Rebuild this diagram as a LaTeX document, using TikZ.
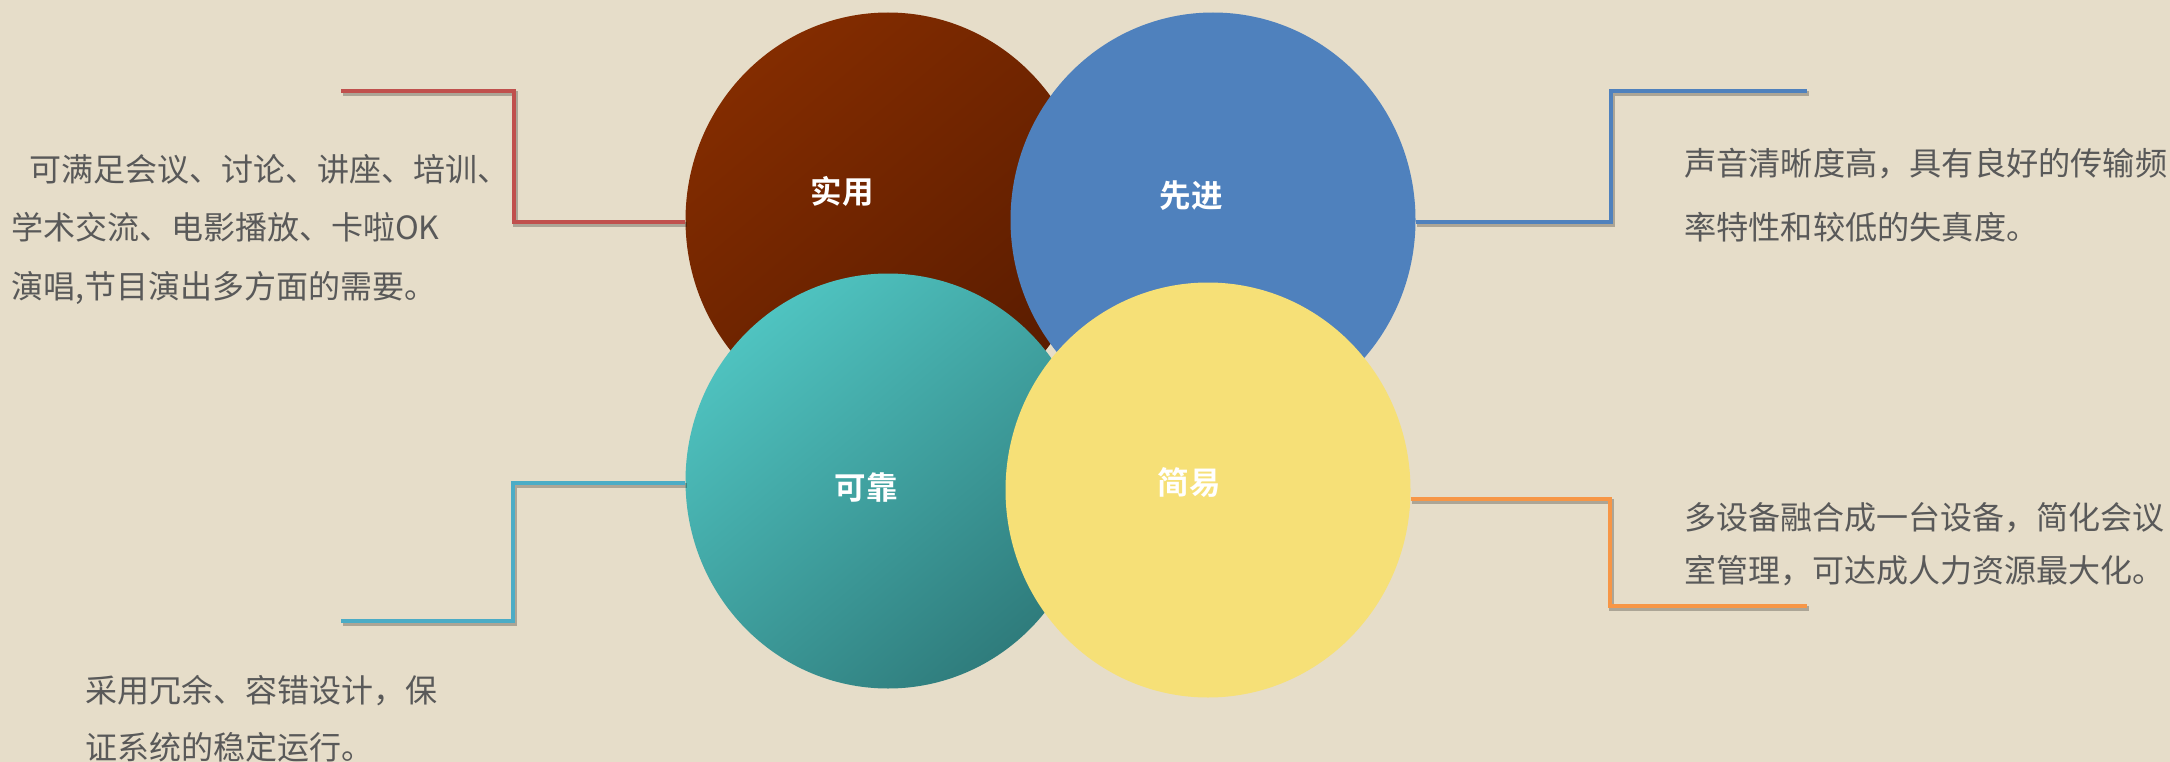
\documentclass[tikz,border=0pt]{standalone}
\usepackage{fontspec}
\usetikzlibrary{shapes.geometric}
\newfontfamily\cjk{Noto Sans CJK SC}
\newfontfamily\cjklabel{Noto Sans CJK SC Bold}
\definecolor{bgc}{HTML}{E6DDC9}
\definecolor{txt}{HTML}{595959}
\definecolor{brownA}{HTML}{832C00}
\definecolor{brownB}{HTML}{5A1C00}
\definecolor{blueE}{HTML}{4F81BD}
\definecolor{tealA}{HTML}{4FC3C0}
\definecolor{tealB}{HTML}{2F7C7C}
\definecolor{yellowE}{HTML}{F6E077}
\definecolor{redL}{HTML}{C0504D}
\definecolor{blueL}{HTML}{4F81BD}
\definecolor{tealL}{HTML}{4BACC6}
\definecolor{orangeL}{HTML}{F79646}
\begin{document}
\begin{tikzpicture}[x=1pt,y=-1pt,
  oval/.style={ellipse, draw=none, inner sep=0pt, minimum width=405pt, minimum height=415pt},
  lbl/.style={text=white, font=\cjklabel\fontsize{31.5}{36}\selectfont, inner sep=0pt},
  desc/.style={text=txt, align=left, inner sep=0pt, anchor=west},
  conn/.style={line width=4.5pt, preaction={draw=black, opacity=0.25, line width=4.5pt, transform canvas={xshift=1.5pt,yshift=-2.5pt}}}
]
\fill[bgc] (0,0) rectangle (2170,762);
\useasboundingbox (0,0) rectangle (2170,762);

% connector corners and ends
\coordinate (r1) at (514,91);  \coordinate (r2) at (341,91);
\coordinate (b1) at (1611,91); \coordinate (b2) at (1807,91);
\coordinate (t1) at (513,621); \coordinate (t2) at (341,621);
\coordinate (o1) at (1610,606);\coordinate (o2) at (1807,606);

% ellipses (as nodes)
\node[oval, shading=axis, top color=brownA, bottom color=brownB, shading angle=40] (shiyong) at (888,220) {};
\node[oval, fill=blueE] (xianjin) at (1213,220) {};
\node[oval, shading=axis, top color=tealA, bottom color=tealB, shading angle=40] (kekao) at (888,481) {};
\node[oval, fill=yellowE] (jianyi) at (1208,490) {};

% connectors
\draw[conn, redL] ([yshift=-2pt]shiyong.west) -| (r1) -- (r2);
\draw[conn, blueL] ([yshift=-2pt]xianjin.east) -| (b1) -- (b2);
\draw[conn, tealL] ([yshift=-2pt]kekao.west) -| (t1) -- (t2);
\draw[conn, orangeL] ([yshift=-9pt]jianyi.east) -| (o1) -- (o2);

% labels
\node[lbl] (l1) at (842,191) {实用};
\node[lbl] (l2) at (1191,196) {先进};
\node[lbl] (l3) at (866,488) {可靠};
\node[lbl] (l4) at (1189,483) {简易};

% descriptions
\node[desc, font=\cjk\fontsize{32}{58.5}\selectfont] (d1) at (11,229)
  {\hspace*{18pt}可满足会议、讨论、讲座、培训、\\学术交流、电影播放、卡啦OK\\演唱,节目演出多方面的需要。};
\node[desc, font=\cjk\fontsize{32.2}{64}\selectfont] (d2) at (1684,195)
  {声音清晰度高，具有良好的传输频\\率特性和较低的失真度。};
\node[desc, font=\cjk\fontsize{32}{57}\selectfont] (d3) at (85,719)
  {采用冗余、容错设计，保\\证系统的稳定运行。};
\node[desc, font=\cjk\fontsize{32}{53}\selectfont] (d4) at (1684,544)
  {多设备融合成一台设备，简化会议\\室管理，可达成人力资源最大化。};
\end{tikzpicture}
\end{document}
